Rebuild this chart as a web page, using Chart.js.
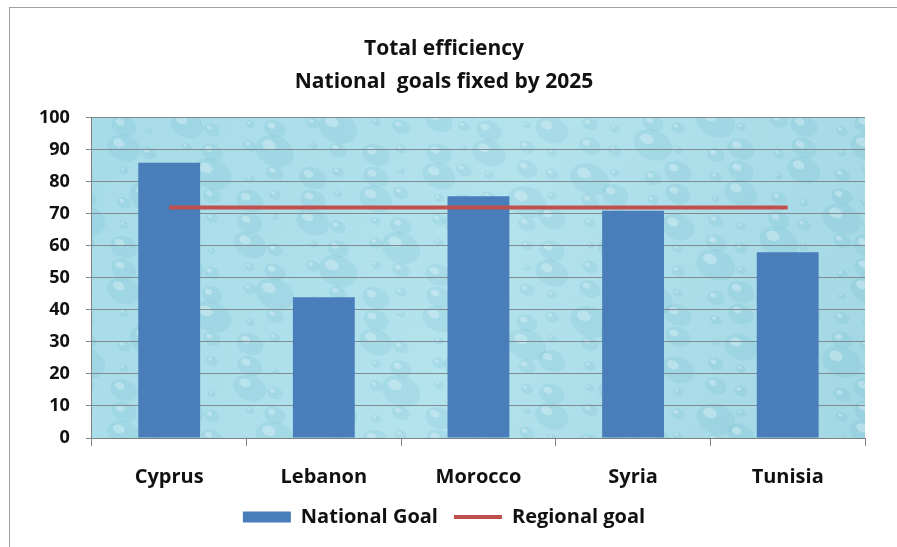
<!DOCTYPE html>
<html>
<head>
<meta charset="utf-8">
<script src="https://cdn.jsdelivr.net/npm/chart.js@4/dist/chart.umd.min.js"></script>
<style>
  html, body { margin: 0; padding: 0; background: #fff; }
  #wrap { width: 897px; height: 547px; position: relative; }
</style>
</head>
<body>
<div id="wrap"><canvas id="chart" width="897" height="547"></canvas></div>
<script>
const countries = ["Cyprus", "Lebanon", "Morocco", "Syria", "Tunisia"];
const nationalGoal = [86, 44, 75.5, 71, 58];
const regionalGoal = [72, 72, 72, 72, 72];
const titleLines = ["Total efficiency", "National  goals fixed by 2025"];

const FONT = "'Open Sans', 'Noto Sans', sans-serif";

// water drop texture behind the plot
const dropsBg = {
  id: "dropsBg",
  beforeDraw(chart) {
    const { ctx, chartArea: a } = chart;
    ctx.save();
    // outer frame
    ctx.strokeStyle = "#a0a0a0";
    ctx.lineWidth = 1;
    ctx.strokeRect(9.5, 7.5, 1000, 1000);

    const g = ctx.createLinearGradient(a.left, a.top, a.right, a.bottom);
    g.addColorStop(0, "#a6dbe8");
    g.addColorStop(0.5, "#b3e3ed");
    g.addColorStop(1, "#a2d7e4");
    ctx.fillStyle = g;
    ctx.fillRect(a.left, a.top, a.right - a.left, a.bottom - a.top);

    ctx.beginPath();
    ctx.rect(a.left, a.top, a.right - a.left, a.bottom - a.top);
    ctx.clip();
    const sizes = [6, 13, 4, 17, 8, 5, 11, 7, 20, 5, 9, 14];
    let k = 0;
    for (let y = a.top + 8; y < a.bottom + 10; y += 24) {
      for (let x = a.left + ((k % 2) * 14); x < a.right + 10; x += 31) {
        const r = sizes[k % sizes.length];
        const dx = (k * 7) % 13 - 6, dy = (k * 5) % 11 - 5;
        ctx.beginPath();
        ctx.ellipse(x + dx, y + dy, r, r * 0.75, 0.4, 0, Math.PI * 2);
        ctx.fillStyle = "rgba(110,185,205,0.18)";
        ctx.fill();
        ctx.beginPath();
        ctx.ellipse(x + dx - r * 0.3, y + dy - r * 0.3, r * 0.35, r * 0.25, 0.4, 0, Math.PI * 2);
        ctx.fillStyle = "rgba(235,250,252,0.35)";
        ctx.fill();
        k++;
      }
    }
    ctx.restore();
  }
};

new Chart(document.getElementById("chart"), {
  data: {
    labels: countries,
    datasets: [
      {
        type: "line",
        label: "Regional goal",
        data: regionalGoal,
        borderColor: "#c0504d",
        backgroundColor: "#c0504d",
        borderWidth: 4,
        pointRadius: 0,
        pointStyle: "line",
        order: 0
      },
      {
        type: "bar",
        label: "National Goal",
        data: nationalGoal,
        backgroundColor: "#4a7ebb",
        borderWidth: 0,
        barPercentage: 0.8,
        categoryPercentage: 0.5,
        pointStyle: "rect",
        order: 1
      }
    ]
  },
  options: {
    responsive: false,
    animation: false,
    layout: { padding: { left: 23, right: 32, top: 33, bottom: 10 } },
    plugins: {
      title: {
        display: true,
        text: titleLines,
        color: "#111",
        font: { family: FONT, size: 21, weight: "bold", lineHeight: 1.57 },
        padding: { top: 0, bottom: 19 }
      },
      legend: {
        position: "bottom",
        reverse: true,
        labels: {
          usePointStyle: true,
          pointStyleWidth: 48,
          boxHeight: 11,
          padding: 16,
          color: "#111",
          font: { family: FONT, size: 20, weight: "bold" }
        }
      },
      tooltip: { enabled: false }
    },
    scales: {
      x: {
        grid: { drawOnChartArea: false, drawTicks: true, tickLength: 8, color: "#808080" },
        border: { color: "#808080" },
        ticks: { color: "#111", padding: 19, font: { family: FONT, size: 20, weight: "bold" } },
        afterFit(scale) { scale.height -= 17; }
      },
      y: {
        min: 0,
        max: 100,
        ticks: { stepSize: 10, color: "#111", padding: 16, font: { family: FONT, size: 18, weight: "bold" } },
        grid: { color: "#7f8c8f", tickLength: 6 },
        border: { color: "#808080" }
      }
    }
  },
  plugins: [dropsBg]
});
</script>
</body>
</html>
